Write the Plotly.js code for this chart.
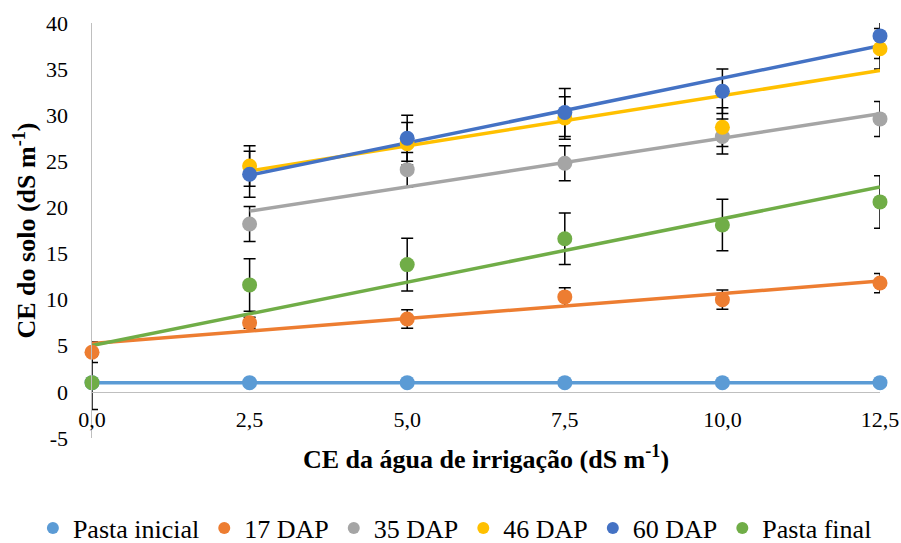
<!DOCTYPE html>
<html>
<head>
<meta charset="utf-8">
<script src="https://cdn.plot.ly/plotly-3.0.1.min.js"></script>
<style>
  html, body { margin: 0; padding: 0; background: #fff; }
  #chart { width: 901px; height: 543px; }
</style>
</head>
<body>
<div id="chart"></div>
<script>
// Irrigation water EC levels (dS m-1)
const xAll = [0, 2.5, 5, 7.5, 10, 12.5];
const xLate = [2.5, 5, 7.5, 10, 12.5];

// Soil EC (dS m-1) per sampling, with standard deviations
const pastaInicial = [1.0, 1.0, 1.0, 1.0, 1.0, 1.0];
const dap17 = [4.3, 7.5, 7.9, 10.3, 10.0, 11.8];
const dap17Err = [1.1, 0.6, 1.0, 1.0, 1.05, 1.05];
const dap35 = [18.2, 24.1, 24.8, 27.7, 29.6];
const dap35Err = [1.9, 1.85, 1.9, 1.9, 1.9];
const dap46 = [24.5, 26.9, 29.7, 28.7, 37.2];
const dap46Err = [2.2, 2.3, 2.3, 2.1, 2.2];
const dap60 = [23.6, 27.5, 30.3, 32.6, 38.6];
const dap60Err = [2.5, 2.5, 2.6, 2.4, 2.45];
const pastaFinal = [1.0, 11.6, 13.8, 16.6, 18.1, 20.6];
const pastaFinalErr = [2.9, 2.85, 2.85, 2.8, 2.8, 2.85];

const seriesNames = ['Pasta inicial', '17 DAP', '35 DAP', '46 DAP', '60 DAP', 'Pasta final'];
const xTickVals = [0, 2.5, 5, 7.5, 10, 12.5];
const xTickText = ['0,0', '2,5', '5,0', '7,5', '10,0', '12,5'];
const yTickVals = [-5, 0, 5, 10, 15, 20, 25, 30, 35, 40];
const yTickText = ['-5', '0', '5', '10', '15', '20', '25', '30', '35', '40'];
const xTitle = '<b>CE da água de irrigação (dS m<sup>-1</sup>)</b>';
const yTitle = '<b>CE do solo (dS m<sup>-1</sup>)</b>';

const series = [
  { name: seriesNames[0], x: xAll, y: pastaInicial, err: null, color: '#5B9BD5' },
  { name: seriesNames[1], x: xAll, y: dap17, err: dap17Err, color: '#ED7D31' },
  { name: seriesNames[2], x: xLate, y: dap35, err: dap35Err, color: '#A5A5A5' },
  { name: seriesNames[3], x: xLate, y: dap46, err: dap46Err, color: '#FFC000' },
  { name: seriesNames[4], x: xLate, y: dap60, err: dap60Err, color: '#4472C4' },
  { name: seriesNames[5], x: xAll, y: pastaFinal, err: pastaFinalErr, color: '#70AD47' }
];

// Least-squares linear trend over the series' own x span
function linearTrend(x, y) {
  const n = x.length;
  const mx = x.reduce((a, b) => a + b, 0) / n;
  const my = y.reduce((a, b) => a + b, 0) / n;
  let sxy = 0, sxx = 0;
  for (let i = 0; i < n; i++) {
    sxy += (x[i] - mx) * (y[i] - my);
    sxx += (x[i] - mx) * (x[i] - mx);
  }
  const slope = sxx === 0 ? 0 : sxy / sxx;
  const icpt = my - slope * mx;
  const x0 = Math.min(...x), x1 = Math.max(...x);
  return { x: [x0, x1], y: [icpt + slope * x0, icpt + slope * x1] };
}

const traces = [];
const font = 'Liberation Serif, Times New Roman, serif';

// error bars (clipped to the plot area)
series.forEach(s => {
  if (!s.err) return;
  traces.push({
    type: 'scatter', mode: 'markers', x: s.x, y: s.y,
    marker: { size: 1, color: 'rgba(0,0,0,0)' },
    error_y: { type: 'data', array: s.err, visible: true, color: '#000000', thickness: 1.5, width: 6 },
    showlegend: false, hoverinfo: 'skip', cliponaxis: true
  });
});

// linear trendlines
series.forEach(s => {
  const t = linearTrend(s.x, s.y);
  traces.push({
    type: 'scatter', mode: 'lines', x: t.x, y: t.y,
    line: { color: s.color, width: 3.5 },
    showlegend: false, hoverinfo: 'skip'
  });
});

// data points
series.forEach(s => {
  traces.push({
    type: 'scatter', mode: 'markers', name: s.name, x: s.x, y: s.y,
    marker: { size: 15, color: s.color },
    cliponaxis: false
  });
});

const layout = {
  width: 901, height: 543,
  paper_bgcolor: '#ffffff', plot_bgcolor: '#ffffff',
  margin: { l: 92, r: 21, t: 23, b: 105, autoexpand: false },
  font: { family: font, color: '#000000', size: 22 },
  showlegend: true,
  legend: {
    orientation: 'h', xref: 'paper', yref: 'paper',
    x: -0.075, xanchor: 'left', y: -0.217, yanchor: 'middle',
    font: { family: font, size: 26, color: '#000000' },
    itemsizing: 'constant', itemwidth: 30, traceorder: 'normal'
  },
  xaxis: {
    range: [0, 12.5],
    anchor: 'free', position: 5 / 45,
    showgrid: false, zeroline: false,
    showline: true, linecolor: '#BFBFBF', linewidth: 1.5,
    tickvals: xTickVals, ticktext: xTickText,
    ticks: 'outside', ticklen: 7, tickcolor: 'rgba(0,0,0,0)',
    tickfont: { family: font, size: 22 },
    title: { text: xTitle, font: { family: font, size: 26 }, standoff: 19 }
  },
  yaxis: {
    range: [-5, 40],
    showgrid: false, zeroline: false,
    showline: true, linecolor: '#BFBFBF', linewidth: 1.5,
    tickvals: yTickVals, ticktext: yTickText,
    ticks: 'outside', ticklen: 18, tickcolor: 'rgba(0,0,0,0)',
    tickfont: { family: font, size: 22 }
  },
  annotations: [{
    text: yTitle, textangle: -90,
    xref: 'paper', yref: 'paper', x: -0.085, y: 0.5,
    xanchor: 'center', yanchor: 'middle', showarrow: false,
    font: { family: font, size: 26, color: '#000000' }
  }]
};

Plotly.newPlot('chart', traces, layout, { staticPlot: true, displayModeBar: false });
</script>
</body>
</html>
